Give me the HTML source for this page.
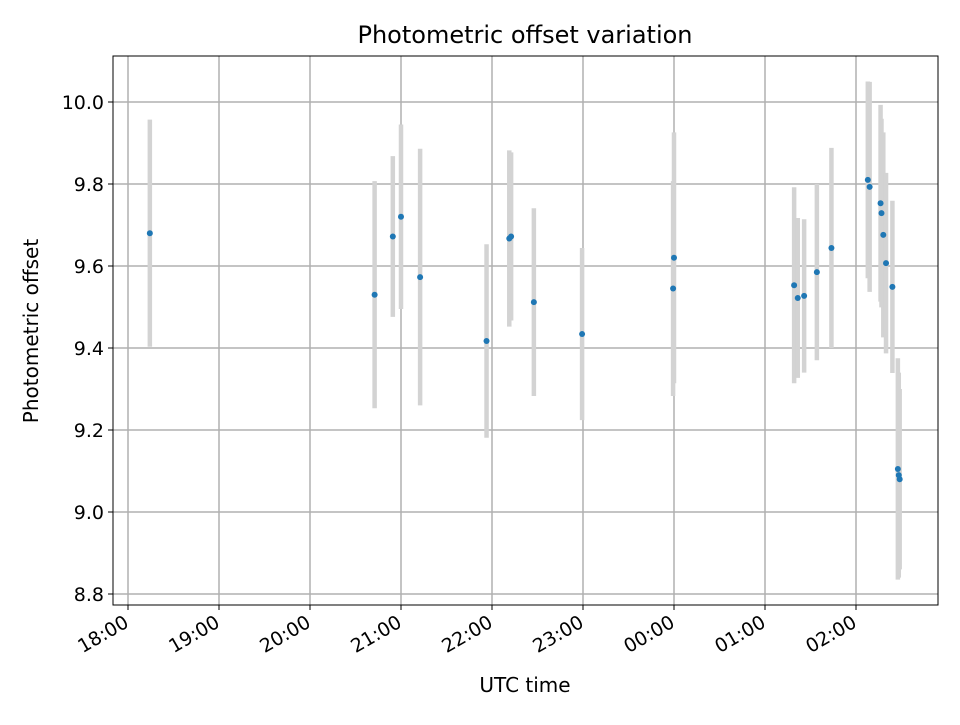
<!DOCTYPE html>
<html><head><meta charset="utf-8"><style>
body{margin:0;background:#fff;font-family:"Liberation Sans","DejaVu Sans",sans-serif;}
svg text{font-family:"DejaVu Sans","Liberation Sans",sans-serif;}
</style></head><body>
<svg id="chart" width="960" height="720" xmlns="http://www.w3.org/2000/svg">
<rect width="960" height="720" fill="#fff"/>
<g id="grid"></g><g id="bars"></g><g id="dots"></g><g id="axes"></g>
<rect x="113" y="56" width="825" height="549" fill="none" stroke="#000" stroke-width="1"/>
<text x="525" y="43" font-size="24" text-anchor="middle">Photometric offset variation</text>
<text x="525" y="692" font-size="20" text-anchor="middle">UTC time</text>
<text transform="translate(38,331) rotate(-90)" font-size="20" text-anchor="middle">Photometric offset</text>
</svg>
<script>
// hours after 18:00 UTC
const times=[0.24,2.71,2.91,3.0,3.21,3.94,4.19,4.21,4.46,4.99,5.99,6.0,7.32,7.36,7.43,7.57,7.73,8.13,8.15,8.27,8.28,8.30,8.33,8.40,8.46,8.47,8.48];
const values=[9.68,9.53,9.672,9.72,9.573,9.417,9.667,9.672,9.512,9.434,9.545,9.62,9.553,9.522,9.527,9.585,9.644,9.81,9.793,9.753,9.729,9.676,9.607,9.549,9.105,9.09,9.08];
const errors=[0.277,0.277,0.196,0.225,0.313,0.236,0.215,0.205,0.229,0.21,0.262,0.306,0.239,0.195,0.187,0.215,0.244,0.24,0.256,0.24,0.23,0.25,0.22,0.21,0.27,0.25,0.22];
const yTicks=[8.8,9.0,9.2,9.4,9.6,9.8,10.0];
const xTickLabels=["18:00","19:00","20:00","21:00","22:00","23:00","00:00","01:00","02:00"];
const NS="http://www.w3.org/2000/svg";
const X=h=>128+h*91;
const Y=v=>102+(10-v)*410;
function mk(tag,attrs,parent){const e=document.createElementNS(NS,tag);for(const k in attrs)e.setAttribute(k,attrs[k]);document.getElementById(parent).appendChild(e);return e;}
yTicks.forEach(v=>{
  const l=mk('line',{x1:113,x2:938,y1:Y(v),y2:Y(v),stroke:'#b0b0b0','stroke-width':1.5},'grid');
  
  
  mk('line',{x1:108,x2:113,y1:Y(v),y2:Y(v),stroke:'#000'},'axes');
  const t=mk('text',{x:104,y:Y(v)+7,'font-size':19,'text-anchor':'end'},'axes');
  t.textContent=v.toFixed(1);
  
  
});
xTickLabels.forEach((s,i)=>{
  const x=X(i);
  const l=mk('line',{x1:x,x2:x,y1:56,y2:605,stroke:'#b0b0b0','stroke-width':1.5},'grid');
  
  
  mk('line',{x1:x,x2:x,y1:605,y2:610,stroke:'#000'},'axes');
  const t=mk('text',{transform:`translate(${x+2},${626}) rotate(-30)`,'font-size':19,'text-anchor':'end'},'axes');
  t.textContent=s;
  
  
});
times.forEach((h,i)=>{
  const b=mk('line',{x1:X(h),x2:X(h),y1:Y(values[i]+errors[i]),y2:Y(values[i]-errors[i]),stroke:'#d3d3d3','stroke-width':4.5},'bars');
  
  
  const c=mk('circle',{cx:X(h),cy:Y(values[i]),r:3,fill:'#1f77b4'},'dots');
  
  
});
</script>
</body></html>
